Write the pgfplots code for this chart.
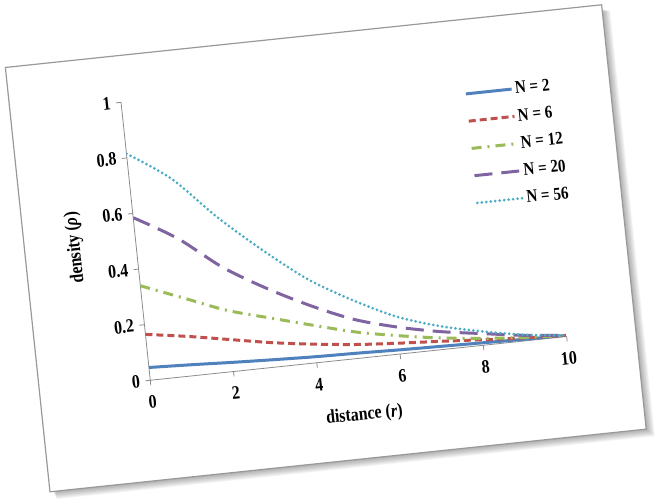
\documentclass[border=0pt]{standalone}
\usepackage{fontspec}
\setmainfont[FakeStretch=0.84]{Liberation Serif}
\usepackage{graphicx}
\usepackage{pgfplots}
\pgfplotsset{compat=1.18}
\definecolor{exblue}{HTML}{4F81BD}
\definecolor{exred}{HTML}{C0504D}
\definecolor{exgreen}{HTML}{9BBB59}
\definecolor{expurple}{HTML}{8064A2}
\definecolor{excyan}{HTML}{4BACC6}
\begin{document}
\rotatebox{6}{%
\begin{tikzpicture}
\path (-5pt,-7pt) rectangle (608pt,431pt);
\foreach \i in {1,...,10} {
  \fill[black, opacity=0.035] (3pt+\i*0.3pt, -\i*0.8pt) rectangle (600pt+\i*0.8pt, 423pt-\i*0.3pt);
}
\filldraw[fill=white, draw=black!40, line width=1.2pt] (0,0) rectangle (600pt,427pt);
\begin{axis}[
  at={(111.5pt,100.5pt)}, anchor=south west,
  scale only axis, width=419pt, height=279.7pt,
  xmin=0, xmax=10, ymin=0, ymax=1,
  axis lines=left,
  axis line style={-, black!45, line width=0.8pt},
  tick align=outside,
  major tick length=5pt,
  tick style={black!45, line width=0.8pt},
  xtick={0,2,4,6,8,10},
  ytick={0,0.2,0.4,0.6,0.8,1},
  /pgf/number format/assume math mode=true,
  ticklabel style={font=\bfseries\fontsize{19}{19}\selectfont},
  xticklabel style={yshift=-7pt},
  yticklabel style={xshift=-2pt},
  xlabel={distance (\textit{r})},
  ylabel={density (\textit{ρ})},
  label style={font=\bfseries\fontsize{19}{19}\selectfont},
  xlabel style={at={(axis description cs:0.5,-0.205)}, anchor=center},
  ylabel style={at={(axis description cs:-0.145,0.5)}, anchor=center},
  legend style={draw=none, fill=none, at={(axis description cs:0.81,0.94)}, anchor=north west,
    font=\bfseries\fontsize{18}{18}\selectfont, row sep=10pt,
    /tikz/every even column/.append style={column sep=3pt}},
  legend cell align=left,
  legend image code/.code={\draw[#1] (0pt,0pt) -- (46pt,0pt);},
  every axis plot/.append style={line width=3pt, smooth, tension=0.5},
]
\addplot[exblue] coordinates {(0,0.046) (1,0.040) (2,0.033) (3,0.027) (4,0.022) (5,0.019) (6,0.015) (7,0.012) (8,0.009) (9,0.006) (10,0.004)};
\addlegendentry{N = 2}
\addplot[exred, dash pattern=on 7pt off 4pt] coordinates {(0,0.165) (1,0.142) (2,0.115) (3,0.088) (4,0.067) (5,0.050) (6,0.039) (7,0.030) (8,0.020) (9,0.011) (10,0.004)};
\addlegendentry{N = 6}
\addplot[exgreen, dash pattern=on 10pt off 6pt on 2pt off 6pt] coordinates {(0,0.340) (1,0.280) (2,0.220) (3,0.177) (4,0.135) (5,0.095) (6,0.066) (7,0.042) (8,0.025) (9,0.012) (10,0.004)};
\addlegendentry{N = 12}
\addplot[expurple, dash pattern=on 18pt off 9pt] coordinates {(0,0.585) (1,0.495) (2,0.375) (3,0.283) (4,0.205) (5,0.140) (6,0.097) (7,0.065) (8,0.042) (9,0.020) (10,0.004)};
\addlegendentry{N = 20}
\addplot[excyan, line width=3pt, line cap=round, dash pattern=on 0pt off 4.5pt] coordinates {(0,0.815) (1,0.710) (2,0.555) (3,0.420) (4,0.300) (5,0.210) (6,0.135) (7,0.085) (8,0.050) (9,0.022) (10,0.004)};
\addlegendentry{N = 56}
\end{axis}
\end{tikzpicture}%
}
\end{document}
